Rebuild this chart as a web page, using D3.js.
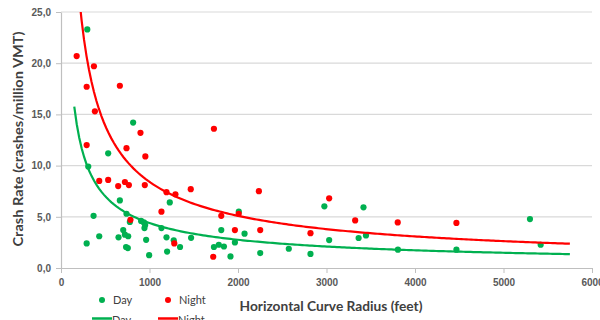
<!DOCTYPE html>
<html>
<head>
<meta charset="utf-8">
<script src="https://cdn.jsdelivr.net/npm/d3@7"></script>
<style>
  html, body { margin: 0; padding: 0; background: #fff; }
  svg { display: block; font-family: Lato, "Open Sans", sans-serif; }
</style>
</head>
<body>
<svg id="chart" width="600" height="320"></svg>
<script>
// radius (feet) / crash rate (crashes per million VMT)
const dayX = [297, 815, 533, 308, 665, 368, 740, 778, 905, 936, 951, 943, 703, 722, 759, 432, 650, 290, 962, 735,
	755, 996, 1135, 1192, 1199, 1274, 1345, 1470, 1229, 1811, 2009, 2074, 1728, 1783, 1841, 1915, 1965, 2251, 2574, 2819,
	2976, 3030, 3363, 3418, 3446, 3807, 4468, 5299, 5420];
const dayY = [23.3, 14.2, 11.2, 9.9, 6.6, 5.1, 5.3, 4.5, 4.6, 4.45, 4.2, 3.9, 3.7, 3.25, 3.1, 3.1, 3.0, 2.4, 2.75, 2.05,
	1.95, 1.25, 3.9, 3.0, 1.6, 2.7, 2.05, 2.95, 6.4, 3.7, 5.5, 3.35, 2.05, 2.27, 2.1, 1.13, 2.5, 1.46, 1.88, 1.37,
	6.02, 2.73, 2.93, 5.93, 3.18, 1.79, 1.79, 4.78, 2.27];

const nightX = [177, 372, 290, 665, 383, 898, 290, 740, 953, 432, 533, 646, 722, 767, 947, 1192, 1293, 1466, 1135, 785,
	1280, 1728, 2236, 1811, 2008, 1965, 2251, 1720, 2819, 3030, 3324, 3805, 4468];
const nightY = [20.7, 19.7, 17.7, 17.8, 15.3, 13.2, 12.0, 11.7, 10.9, 8.5, 8.6, 8.0, 8.4, 8.1, 8.1, 7.4, 7.2, 7.7, 5.5, 4.7,
	2.4, 13.6, 7.5, 5.1, 5.3, 3.7, 3.7, 1.1, 3.4, 6.8, 4.65, 4.45, 4.4];

// power trendlines y = a * x^b, coefficients
const dayTrend = { a: 459, b: -0.673, from: 150, to: 5750 };
const nightTrend = { a: 1250, b: -0.724, from: 177, to: 5750 };

const xTicks = [0, 1000, 2000, 3000, 4000, 5000, 6000];
const yTicks = [0, 5, 10, 15, 20, 25];

const green = "#00b050";
const red = "#ff0000";

const svg = d3.select("#chart");
const x = d3.scaleLinear().domain([0, 6000]).range([61, 592]);
const y = d3.scaleLinear().domain([0, 25]).range([268, 12]);
const fmt = d => d3.format(".1f")(d).replace(".", ",");

// gridlines
svg.append("g")
	.selectAll("line")
	.data(yTicks.filter(d => d > 0))
	.join("line")
	.attr("x1", x(0)).attr("x2", x(6000))
	.attr("y1", d => y(d)).attr("y2", d => y(d))
	.attr("stroke", "#d9d9d9").attr("stroke-width", 1.2);

// axes
const xAxis = svg.append("g")
	.attr("transform", `translate(0,${y(0)})`)
	.call(d3.axisBottom(x).tickValues(xTicks).tickSize(5).tickSizeOuter(0).tickPadding(6).tickFormat(d3.format("d")));
const yAxis = svg.append("g")
	.attr("transform", `translate(${x(0)},0)`)
	.call(d3.axisLeft(y).tickValues(yTicks).tickSize(5).tickSizeOuter(0).tickPadding(5).tickFormat(fmt));
[xAxis, yAxis].forEach(g => {
	g.select(".domain").attr("stroke", "#bfbfbf").attr("stroke-width", 1.2);
	g.selectAll(".tick line").attr("stroke", "#bfbfbf");
	g.selectAll(".tick text")
		.attr("fill", "#595959")
		.style("font-size", "10px")
		.style("font-weight", "bold");
});

// points
const dayPts = dayX.map((v, i) => [v, dayY[i]]);
const nightPts = nightX.map((v, i) => [v, nightY[i]]);
svg.append("g").selectAll("circle")
	.data(dayPts).join("circle")
	.attr("cx", d => x(d[0])).attr("cy", d => y(d[1])).attr("r", 3.1)
	.attr("fill", green);
svg.append("g").selectAll("circle")
	.data(nightPts).join("circle")
	.attr("cx", d => x(d[0])).attr("cy", d => y(d[1])).attr("r", 3.1)
	.attr("fill", red);

// trendlines, clipped to the plot area
svg.append("clipPath").attr("id", "plot")
	.append("rect").attr("x", x(0)).attr("y", y(25)).attr("width", x(6000) - x(0)).attr("height", y(0) - y(25));
const line = d3.line().x(d => x(d[0])).y(d => y(d[1]));
function trendPoints(t) {
	return d3.range(0, 201).map(i => {
		const xv = t.from + (t.to - t.from) * i / 200;
		return [xv, t.a * Math.pow(xv, t.b)];
	});
}
[[dayTrend, green], [nightTrend, red]].forEach(([t, c]) => {
	svg.append("path")
		.attr("d", line(trendPoints(t)))
		.attr("clip-path", "url(#plot)")
		.attr("fill", "none")
		.attr("stroke", c)
		.attr("stroke-width", 2.2);
});

// axis titles
svg.append("text")
	.attr("x", 331).attr("y", 311)
	.attr("text-anchor", "middle")
	.attr("fill", "#404040")
	.style("font-size", "14px").style("font-weight", "bold")
	.attr("textLength", 183).attr("lengthAdjust", "spacingAndGlyphs")
	.text("Horizontal Curve Radius (feet)");
svg.append("text")
	.attr("transform", "translate(23,139) rotate(-90)")
	.attr("text-anchor", "middle")
	.attr("fill", "#404040")
	.style("font-size", "14px").style("font-weight", "bold")
	.attr("textLength", 215).attr("lengthAdjust", "spacingAndGlyphs")
	.text("Crash Rate (crashes/million VMT)");

// legend (second row is cut by the bottom edge, as in the original)
const legend = [
	{ label: "Day", color: green, kind: "dot", x: 102, y: 300 },
	{ label: "Night", color: red, kind: "dot", x: 168, y: 300 },
	{ label: "Day", color: green, kind: "line", x: 102, y: 318.5 },
	{ label: "Night", color: red, kind: "line", x: 168, y: 318.5 }
];
const lg = svg.append("g").selectAll("g").data(legend).join("g");
lg.filter(d => d.kind === "dot").append("circle")
	.attr("cx", d => d.x).attr("cy", d => d.y).attr("r", 3).attr("fill", d => d.color);
lg.filter(d => d.kind === "line").append("line")
	.attr("x1", d => d.x - 10).attr("x2", d => d.x + 10)
	.attr("y1", d => d.y).attr("y2", d => d.y)
	.attr("stroke", d => d.color).attr("stroke-width", 2.5);
lg.append("text")
	.attr("x", d => d.x + (d.kind === "dot" ? 11 : 10))
	.attr("y", d => d.kind === "dot" ? d.y + 4 : d.y + 5)
	.attr("fill", "#404040")
	.style("font-size", "11px")
	.text(d => d.label);
</script>
</body>
</html>
